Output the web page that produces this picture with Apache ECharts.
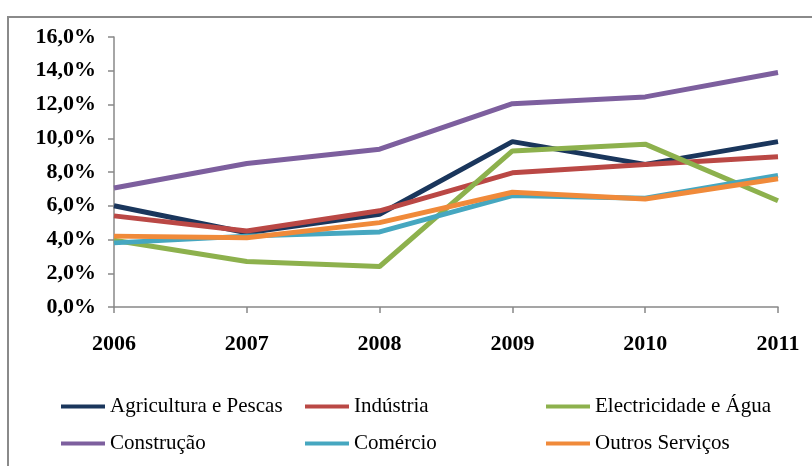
<!DOCTYPE html>
<html>
<head>
<meta charset="utf-8">
<script src="https://cdn.jsdelivr.net/npm/echarts@6/dist/echarts.min.js"></script>
<style>
html,body{margin:0;padding:0;background:#fff;}
#chart{width:812px;height:466px;}
</style>
</head>
<body>
<div id="chart"></div>
<script>
// categorias (anos)
var anos = ['2006','2007','2008','2009','2010','2011'];

// taxas por sector (%)
var agricultura = [6.0, 4.4, 5.5, 9.8, 8.45, 9.8];
var industria = [5.4, 4.5, 5.7, 7.95, 8.45, 8.9];
var electricidade = [3.95, 2.7, 2.4, 9.25, 9.65, 6.3];
var construcao = [7.05, 8.5, 9.35, 12.05, 12.45, 13.9];
var comercio = [3.8, 4.2, 4.45, 6.6, 6.45, 7.8];
var outros = [4.2, 4.1, 5.0, 6.8, 6.4, 7.6];

var nomes = ['Agricultura e Pescas','Indústria','Electricidade e Água','Construção','Comércio','Outros Serviços'];
var cores = ['#1A365C','#BA4845','#8DB14D','#7D5F9E','#46A7C0','#F08A3A'];
var valores = [agricultura, industria, electricidade, construcao, comercio, outros];

var fonte = '"Liberation Serif","Times New Roman",serif';
var corEixo = '#888888';

var chart = echarts.init(document.getElementById('chart'));

var series = [];
for (var i = 0; i < nomes.length; i++) {
	series.push({
		name: nomes[i],
		type: 'line',
		data: valores[i],
		symbol: 'none',
		color: cores[i],
		lineStyle: { width: 5, color: cores[i] }
	});
}

// legenda em 3 colunas
function legenda(left, itens) {
	return {
		left: left,
		top: 390,
		orient: 'vertical',
		icon: 'rect',
		itemWidth: 44,
		itemHeight: 4,
		itemGap: 14,
		data: itens,
		textStyle: { fontFamily: fonte, fontSize: 21, color: '#000', lineHeight: 23 }
	};
}

var option = {
	animation: false,
	grid: { left: 114, right: 34, top: 37, bottom: 159 },
	legend: [
		legenda(56, [nomes[0], nomes[3]]),
		legenda(300, [nomes[1], nomes[4]]),
		legenda(541, [nomes[2], nomes[5]])
	],
	xAxis: {
		type: 'category',
		data: anos,
		boundaryGap: false,
		axisLine: { lineStyle: { color: corEixo, width: 1.5 } },
		axisTick: { show: true, length: 6, alignWithLabel: true, lineStyle: { color: corEixo, width: 1.5 } },
		axisLabel: { margin: 26, fontFamily: fonte, fontSize: 22, fontWeight: 'bold', color: '#000' },
		splitLine: { show: false }
	},
	yAxis: {
		type: 'value',
		min: 0,
		max: 16,
		interval: 2,
		axisLine: { show: true, lineStyle: { color: corEixo, width: 1.5 } },
		axisTick: { show: true, length: 6, lineStyle: { color: corEixo, width: 1.5 } },
		axisLabel: {
			margin: 18,
			fontFamily: fonte, fontSize: 22, fontWeight: 'bold', color: '#000',
			formatter: function (v) { return v.toFixed(1).replace('.', ',') + '%'; }
		},
		splitLine: { show: false }
	},
	graphic: [{
		type: 'rect',
		shape: { x: 8, y: 17, width: 900, height: 600 },
		style: { fill: 'none', stroke: '#8a8a8a', lineWidth: 2 },
		silent: true
	}],
	series: series
};

chart.setOption(option);
</script>
</body>
</html>
